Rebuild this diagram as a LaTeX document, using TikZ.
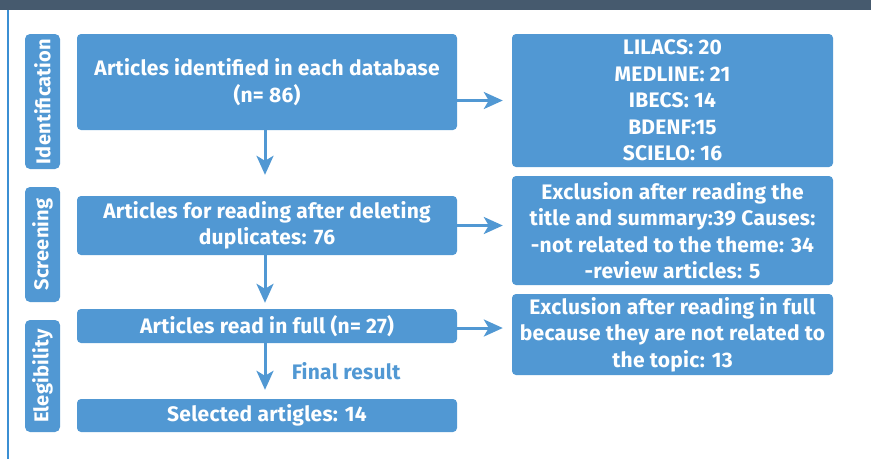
\documentclass[tikz,border=0pt]{standalone}
\usepackage{fontspec}
\setmainfont{Fira Sans}[LetterSpace=1.2]
\usetikzlibrary{arrows.meta}
\definecolor{boxblue}{HTML}{5198D3}
\definecolor{barslate}{HTML}{465A6E}
\definecolor{edgeblue}{HTML}{3B8FD3}
\tikzset{
  boxfont/.style={font=\fontsize{21}{26.5}\selectfont\bfseries},
  box/.style={fill=boxblue, rounded corners=4pt, text=white, align=center,
    inner sep=0pt, boxfont},
  sidelabel/.style={fill=boxblue, rounded corners=5pt, text=white, inner sep=0pt,
    minimum width=35pt, font=\fontsize{20}{24}\selectfont\bfseries},
  flow/.style={draw=boxblue, line width=3pt,
    -{Stealth[length=19pt, width=17pt, inset=5pt]}},
}
\begin{document}
\begin{tikzpicture}[x=1pt, y=-1pt]
\useasboundingbox (0,0) rectangle (871,459);
% frame: title bar and left rule
\fill[barslate] (0,0) rectangle (871,10);
\fill[edgeblue] (6.5,10) rectangle (9,459);

% stage labels
\node[sidelabel, minimum height=135pt] (lid) at (42.5,101.5) {\rotatebox{90}{Identification}};
\node[sidelabel, minimum height=115pt] (lsc) at (42.5,244.5) {\rotatebox{90}{Screening}};
\node[sidelabel, minimum height=112pt] (lel) at (42.5,376) {\rotatebox{90}{Elegibility}};

% main flow
\node[box, minimum width=380pt, minimum height=96pt] (b1) at (267,82)
  {Articles identified in each database\\(n= 86)};
\node[box, minimum width=380pt, minimum height=59pt] (b2) at (267,225.5)
  {Articles for reading after deleting\\duplicates: 76};
\node[box, minimum width=380pt, minimum height=34pt] (b3) at (267,326)
  {Articles read in full (n= 27)};
\node[box, minimum width=380pt, minimum height=33pt] (b4) at (267,415.5)
  {Selected artigles: 14};

% side results
\node[box, minimum width=321pt, minimum height=133pt] (r1) at (672.5,100.5)
  {LILACS: 20\\MEDLINE: 21\\IBECS: 14\\BDENF:15\\SCIELO: 16};
\node[box, minimum width=321pt, minimum height=109pt] (r2) at (672.5,230.5)
  {Exclusion after reading the\\title and summary:39 Causes:\\-not related to the theme: 34\\-review articles: 5};
\node[box, minimum width=321pt, minimum height=81pt] (r3) at (672.5,334.5)
  {Exclusion after reading in full\\because they are not related to\\the topic: 13};

% connectors
\draw[flow, shorten >=21pt] ([xshift=-2pt]b1.south) -- ([xshift=-2pt]b2.north);
\draw[flow, shorten >=6pt] ([xshift=-2pt]b2.south) -- ([xshift=-2pt]b3.north);
\draw[flow, shorten >=9pt] ([xshift=-2pt]b3.south) -- ([xshift=-2pt]b4.north)
  node[pos=0.5, right=22pt, text=boxblue, boxfont] (fr) {Final result};
\draw[flow, shorten >=9pt] (b1.east |- r1.center) -- (r1.west);
\draw[flow, shorten >=9pt] (b2.east) -- (b2.east -| r2.west);
\draw[flow, shorten >=9pt] ([yshift=-2pt]b3.east) -- ([yshift=-2pt]b3.east -| r3.west);
\end{tikzpicture}
\end{document}
